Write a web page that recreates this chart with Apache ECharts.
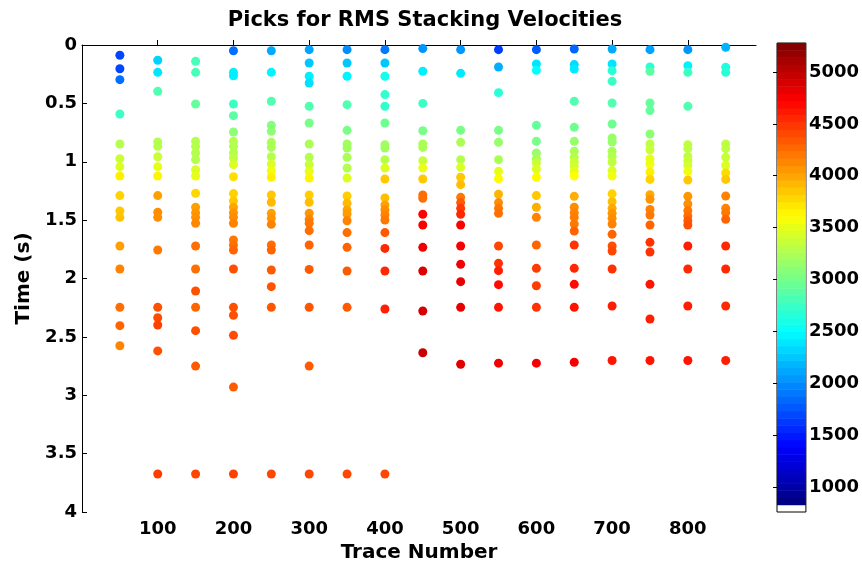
<!DOCTYPE html>
<html><head><meta charset="utf-8">
<script src="https://cdn.jsdelivr.net/npm/echarts@6/dist/echarts.min.js"></script>
<style>html,body{margin:0;padding:0;background:#fff}#c{width:862px;height:569px}</style>
</head><body><div id="c"></div>
<script>
const traceNumbers = [50,100,150,200,250,300,350,400,450,500,550,600,650,700,750,800,850];
const pickTimes = [
  [0.088,0.203,0.297,0.591,0.848,0.974,1.042,1.122,1.29,1.422,1.476,1.722,1.919,2.247,2.404,2.576],
  [0.131,0.234,0.397,0.83,0.868,0.957,1.042,1.122,1.29,1.433,1.476,1.756,2.247,2.336,2.398,2.62,3.675],
  [0.14,0.234,0.505,0.825,0.868,0.925,0.982,1.068,1.122,1.27,1.39,1.436,1.476,1.527,1.722,1.919,2.107,2.247,2.447,2.75,3.675],
  [0.049,0.234,0.263,0.505,0.605,0.745,0.825,0.868,0.925,0.968,1.025,1.128,1.273,1.336,1.39,1.436,1.476,1.527,1.67,1.713,1.756,1.919,2.247,2.315,2.487,2.93,3.675],
  [0.049,0.234,0.482,0.688,0.739,0.834,0.877,0.957,1.019,1.079,1.133,1.285,1.347,1.442,1.485,1.536,1.713,1.756,1.927,2.07,2.247,3.675],
  [0.04,0.154,0.268,0.325,0.525,0.668,0.848,0.962,1.025,1.082,1.139,1.285,1.347,1.442,1.493,1.527,1.59,1.713,1.922,2.247,2.75,3.675],
  [0.04,0.154,0.268,0.511,0.731,0.848,0.882,0.962,1.054,1.139,1.293,1.356,1.413,1.448,1.505,1.607,1.733,1.936,2.247,3.675],
  [0.04,0.154,0.268,0.425,0.525,0.668,0.854,0.882,0.982,1.054,1.148,1.31,1.37,1.413,1.456,1.499,1.607,1.742,1.936,2.261,3.675],
  [0.031,0.225,0.5,0.734,0.848,0.877,0.991,1.054,1.148,1.285,1.313,1.45,1.542,1.733,1.936,2.278,2.636],
  [0.04,0.243,0.731,0.834,0.982,1.048,1.133,1.196,1.305,1.35,1.399,1.45,1.542,1.722,1.879,2.027,2.247,2.734],
  [0.04,0.188,0.408,0.731,0.834,0.982,1.082,1.145,1.278,1.35,1.399,1.442,1.722,1.87,1.933,2.053,2.247,2.725],
  [0.04,0.163,0.217,0.688,0.825,0.925,0.974,1.011,1.062,1.133,1.29,1.39,1.476,1.713,1.913,2.062,2.247,2.725],
  [0.034,0.168,0.206,0.482,0.705,0.825,0.91,0.962,1.002,1.039,1.082,1.122,1.296,1.39,1.436,1.476,1.533,1.593,1.713,1.913,2.05,2.247,2.717],
  [0.034,0.163,0.22,0.311,0.497,0.677,0.797,0.831,0.91,0.954,1.002,1.076,1.122,1.275,1.342,1.399,1.442,1.485,1.533,1.622,1.722,1.764,1.919,2.236,2.702],
  [0.04,0.188,0.225,0.497,0.562,0.762,0.848,0.897,0.974,1.019,1.088,1.151,1.283,1.322,1.408,1.456,1.542,1.69,1.773,2.05,2.347,2.702],
  [0.04,0.177,0.234,0.525,0.854,0.888,0.954,0.991,1.031,1.082,1.156,1.296,1.362,1.419,1.465,1.505,1.542,1.722,1.919,2.236,2.702],
  [0.02,0.191,0.234,0.848,0.888,0.962,1.031,1.096,1.151,1.293,1.399,1.436,1.493,1.722,1.919,2.236,2.702]
];
const pickVelocities = [
  [1691,1691,1866,2760,3284,3371,3458,3676,3806,3850,3872,4025,4156,4243,4287,4150],
  [2302,2389,2847,3284,3284,3371,3502,3654,4025,4112,4112,4200,4374,4396,4440,4374,4461],
  [2804,2804,2934,3284,3284,3284,3284,3458,3502,3785,4025,4069,4091,4134,4243,4243,4374,4287,4374,4330,4418],
  [1866,2433,2433,2760,2891,3109,3284,3284,3284,3327,3458,3741,3806,3850,4003,4069,4112,4156,4200,4243,4287,4374,4374,4374,4396,4330,4440],
  [2128,2455,2847,3066,3109,3240,3240,3284,3458,3545,3676,3850,3916,4025,4069,4156,4243,4287,4330,4352,4352,4418],
  [2106,2259,2433,2368,2847,3022,3240,3284,3371,3502,3654,3828,3894,4069,4156,4200,4243,4287,4330,4352,4330,4418],
  [1997,2259,2455,2847,3022,3196,3196,3240,3284,3458,3828,3916,4003,4047,4156,4243,4287,4330,4330,4418],
  [1909,2259,2585,2716,2716,2978,3196,3196,3284,3458,3850,3894,4025,4112,4156,4200,4330,4548,4548,4592,4418],
  [2040,2433,2760,3022,3240,3240,3371,3523,3850,4243,4243,4723,4740,4800,4876,4900,4960],
  [2040,2411,3022,3240,3284,3458,3850,3894,4200,4330,4461,4548,4732,4767,4788,4832,4832,4853],
  [1648,2150,2673,3022,3153,3240,3502,3632,3938,4112,4200,4243,4418,4505,4592,4679,4636,4788],
  [1779,2389,2500,2934,3022,3153,3240,3371,3458,3632,3850,3959,4156,4287,4461,4461,4505,4767],
  [1822,2346,2411,2847,2978,3153,3240,3284,3371,3415,3502,3610,3959,4112,4156,4178,4200,4287,4505,4548,4679,4636,4767],
  [2128,2389,2673,2760,2847,2978,3153,3153,3240,3284,3327,3458,3545,3806,3894,3981,4069,4112,4156,4287,4374,4418,4505,4592,4636],
  [2084,2673,2891,2934,2934,3109,3327,3371,3502,3545,3676,3806,3981,4069,4156,4200,4287,4505,4505,4636,4592,4636],
  [2040,2450,2760,2847,3327,3327,3327,3371,3415,3545,3850,4069,4112,4200,4243,4330,4374,4592,4548,4592,4636],
  [2171,2629,2673,3327,3327,3371,3458,3763,3850,4156,4156,4200,4287,4548,4548,4548,4592]
];
const xTickValues = [100,200,300,400,500,600,700,800];
const colorbarTickValues = [1000,1500,2000,2500,3000,3500,4000,4500,5000];
const velocityMin = 830, velocityMax = 5279, colorbarMin = 760;
const colorLevels = 64;

function clamp(v){ return Math.max(0, Math.min(1, v)); }
function jet(p){
  const r = clamp(Math.min(4*p-1.5, -4*p+4.5));
  const g = clamp(Math.min(4*p-0.5, -4*p+3.5));
  const b = clamp(Math.min(4*p+0.5, -4*p+2.5));
  return 'rgb(' + Math.round(r*255) + ',' + Math.round(g*255) + ',' + Math.round(b*255) + ')';
}
const jetStops = [0,1,2,3,4,5,6,7,8].map(i => jet(i/8));

const scatterData = [];
traceNumbers.forEach((tr, i) => {
  pickTimes[i].forEach((t, j) => scatterData.push([tr, t, pickVelocities[i][j]]));
});
const bandStep = (velocityMax - velocityMin) / colorLevels;
const bands = [];
for (let i = 0; i < colorLevels; i++) bands.push([velocityMin + i*bandStep, velocityMin + (i+1)*bandStep, i]);

const FONT = 'DejaVu Sans';
const chart = echarts.init(document.getElementById('c'), null, {renderer: 'canvas'});
chart.setOption({
  animation: false,
  backgroundColor: '#fff',
  title: {
    text: 'Picks for RMS Stacking Velocities',
    left: 420, top: 5, textAlign: 'center',
    textStyle: {fontFamily: FONT, fontWeight: 'bold', fontSize: 21, color: '#000'}
  },
  grid: [
    {left: 82, right: 106, top: 45, bottom: 57},
    {left: 777, width: 30, top: 43, height: 469, show: true, borderColor: '#000', borderWidth: 1, backgroundColor: 'rgba(0,0,0,0)'}
  ],
  visualMap: {
    type: 'continuous', show: false, seriesIndex: 0, dimension: 2,
    min: velocityMin, max: velocityMax,
    inRange: {color: jetStops}
  },
  xAxis: [
    {
      gridIndex: 0, type: 'value', min: 0, max: 890,
      name: 'Trace Number', nameLocation: 'middle', nameGap: 31,
      nameTextStyle: {fontFamily: FONT, fontWeight: 'bold', fontSize: 20, color: '#000'},
      axisLine: {lineStyle: {color: '#000', width: 1}},
      axisTick: {inside: true, length: 5, customValues: xTickValues, lineStyle: {color: '#000'}},
      axisLabel: {customValues: xTickValues, margin: 8, fontFamily: FONT, fontWeight: 'bold', fontSize: 18, color: '#000'},
      splitLine: {show: false}
    },
    {gridIndex: 1, type: 'value', min: 0, max: 1, show: false}
  ],
  yAxis: [
    {
      gridIndex: 0, type: 'value', inverse: true, min: 0, max: 4, interval: 0.5,
      name: 'Time (s)', nameLocation: 'middle', nameGap: 34, nameRotate: 90,
      nameTextStyle: {fontFamily: FONT, fontWeight: 'bold', fontSize: 20, color: '#000'},
      axisLine: {show: true, lineStyle: {color: '#000', width: 1}},
      axisTick: {show: true, inside: true, length: 5, lineStyle: {color: '#000'}},
      axisLabel: {margin: 5, fontFamily: FONT, fontWeight: 'bold', fontSize: 18, color: '#000'},
      splitLine: {show: false}
    },
    {
      gridIndex: 1, type: 'value', position: 'right', min: colorbarMin, max: velocityMax,
      axisLine: {show: false},
      axisTick: {show: true, inside: true, length: 4, customValues: colorbarTickValues, lineStyle: {color: '#000'}},
      axisLabel: {customValues: colorbarTickValues, margin: 3, fontFamily: FONT, fontWeight: 'bold', fontSize: 18, color: '#000',
                  formatter: v => String(v)},
      splitLine: {show: false}
    },
    {
      gridIndex: 1, type: 'value', position: 'left', min: colorbarMin, max: velocityMax,
      axisLine: {show: false},
      axisTick: {show: true, inside: true, length: 4, customValues: colorbarTickValues, lineStyle: {color: '#000'}},
      axisLabel: {show: false},
      splitLine: {show: false}
    }
  ],
  series: [
    {
      type: 'scatter', xAxisIndex: 0, yAxisIndex: 0,
      symbolSize: 9, data: scatterData,
      itemStyle: {opacity: 1}
    },
    {
      type: 'custom', xAxisIndex: 1, yAxisIndex: 1,
      data: bands, encode: {y: [0, 1]}, silent: true,
      renderItem: function(params, api){
        const lo = api.coord([0, api.value(0)]);
        const hi = api.coord([1, api.value(1)]);
        const idx = api.value(2);
        return {
          type: 'rect',
          shape: {x: lo[0], y: hi[1], width: hi[0]-lo[0], height: lo[1]-hi[1] + 0.5},
          style: {fill: jet((idx + 0.5) / colorLevels)}
        };
      },
      z: 1
    }
  ]
});
</script>
</body></html>
